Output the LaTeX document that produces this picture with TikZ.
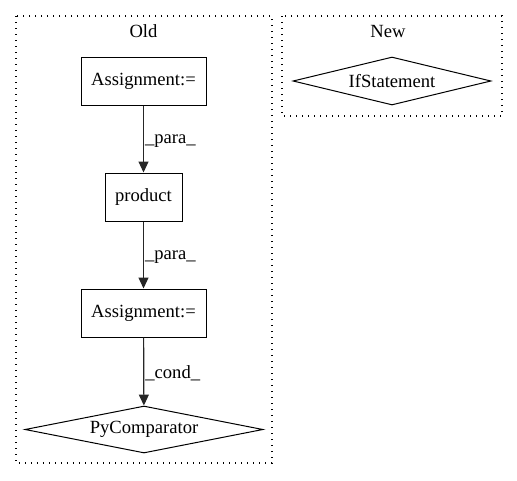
\documentclass[tikz,border=0pt]{standalone}
\usepackage{fontspec}
\setmainfont{Liberation Serif}
\usetikzlibrary{shapes.geometric,arrows.meta}
\begin{document}
\begin{tikzpicture}[x=1pt,y=-1pt,font=\fontsize{18.6}{21}\selectfont,
    box/.style={draw,rectangle,line width=1pt,minimum width=125pt,minimum height=48pt,inner sep=0pt},
    cond/.style={draw,diamond,line width=1pt,aspect=5,inner sep=0pt},
    cluster/.style={draw,dash pattern=on 1.3pt off 4.7pt,line width=1.3pt},
    edge/.style={-{Triangle[length=11pt,width=10pt]},line width=1.2pt,color=black!85},
    lbl/.style={anchor=west,inner sep=1pt,yshift=-2pt,text=black}]

    \useasboundingbox (0,0) rectangle (517,480);

    % clusters
    \draw[cluster] (16,16) rectangle (272,463);
    \draw[cluster] (282,16) rectangle (502,116);
    \node (old) at (143.5,31) {Old};
    \node (new) at (388,31) {New};

    \node[box] (a1) at (143.5,81) {Assignment:=};
    \node[box,minimum width=77pt] (prod) at (143.5,197) {product};
    \node[box] (a2) at (143.5,313) {Assignment:=};
    \node[cond,minimum width=238pt,minimum height=47pt] (cmp) at (144,429.5) {PyComparator};
    \node[cond,minimum width=198pt,minimum height=48pt] (if) at (392,81) {IfStatement};

    \draw[edge] (a1) -- node[lbl] {\_para\_} (prod);
    \draw[edge] (prod) -- node[lbl] {\_para\_} (a2);
    \draw[edge] (a2) -- node[lbl] {\_cond\_} (cmp);
\end{tikzpicture}
\end{document}
